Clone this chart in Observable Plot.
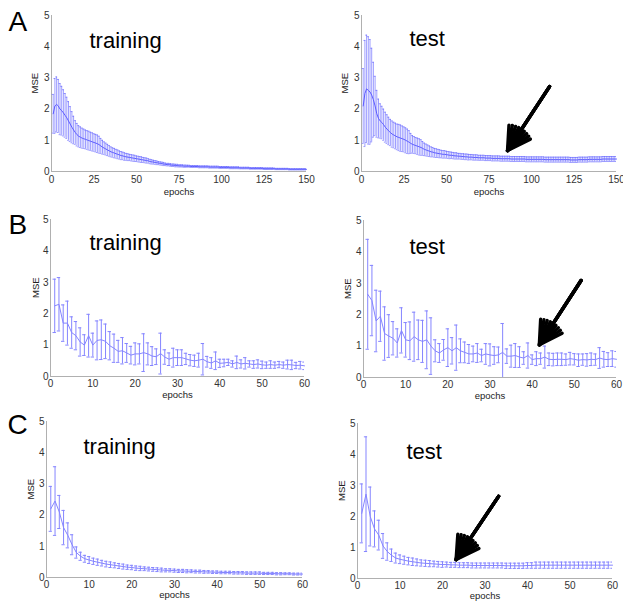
<!DOCTYPE html>
<html><head><meta charset="utf-8">
<script src="https://cdn.jsdelivr.net/npm/d3@7"></script>
<script src="https://cdn.jsdelivr.net/npm/@observablehq/plot@0.6"></script>
<style>
html,body{margin:0;padding:0;background:#fff;}
#fig{position:relative;width:623px;height:605px;overflow:hidden;}
#fig svg{position:absolute;overflow:visible;}
</style></head><body><div id="fig"></div>
<script>
// ---------- tick labels ----------
const yTicks = [0, 1, 2, 3, 4, 5];
const xTicksA = [0, 25, 50, 75, 100, 125, 150];
const xTicksBC = [0, 10, 20, 30, 40, 50, 60];

// ---------- panel A (150 epochs) ----------
const aTrainMean = [
 1.85,2.1,2.15,2.1,2.0,1.95,1.88,1.8,1.72,1.62,
 1.52,1.42,1.33,1.25,1.18,1.13,1.1,1.07,1.05,1.03,
 1.01,0.99,0.97,0.95,0.93,0.91,0.89,0.86,0.82,0.78,
 0.75,0.72,0.69,0.66,0.63,0.61,0.59,0.57,0.55,0.53,
 0.51,0.5,0.48,0.47,0.46,0.45,0.44,0.43,0.42,0.41,
 0.4,0.39,0.38,0.37,0.36,0.35,0.34,0.32,0.31,0.3,
 0.29,0.28,0.27,0.26,0.25,0.24,0.23,0.22,0.22,0.21,
 0.2,0.2,0.19,0.19,0.18,0.18,0.18,0.17,0.17,0.17,
 0.17,0.16,0.16,0.16,0.16,0.16,0.15,0.15,0.15,0.15,
 0.15,0.15,0.14,0.14,0.14,0.14,0.14,0.14,0.13,0.13,
 0.13,0.13,0.13,0.13,0.12,0.12,0.12,0.12,0.12,0.12,
 0.11,0.11,0.11,0.11,0.11,0.11,0.1,0.1,0.1,0.1,
 0.1,0.1,0.1,0.1,0.09,0.09,0.09,0.09,0.09,0.09,
 0.09,0.08,0.08,0.08,0.08,0.08,0.08,0.08,0.08,0.07,
 0.07,0.07,0.07,0.07,0.07,0.07,0.07,0.07,0.07,0.07];
const aTrainSd = [
 0.62,0.88,0.88,0.85,0.82,0.78,0.74,0.7,0.66,0.62,
 0.56,0.5,0.44,0.38,0.36,0.34,0.33,0.32,0.31,0.3,
 0.3,0.3,0.29,0.29,0.28,0.28,0.28,0.27,0.24,0.22,
 0.2,0.19,0.18,0.17,0.16,0.15,0.15,0.14,0.14,0.13,
 0.13,0.12,0.12,0.11,0.11,0.1,0.1,0.1,0.1,0.09,
 0.09,0.09,0.09,0.08,0.08,0.08,0.07,0.07,0.07,0.06,
 0.06,0.06,0.05,0.05,0.05,0.05,0.04,0.04,0.04,0.04,
 0.04,0.04,0.04,0.04,0.035,0.035,0.035,0.035,0.035,0.03,
 0.03,0.03,0.03,0.03,0.03,0.03,0.03,0.03,0.03,0.03,
 0.03,0.03,0.03,0.03,0.03,0.03,0.03,0.03,0.03,0.03,
 0.03,0.03,0.03,0.03,0.03,0.03,0.03,0.03,0.03,0.03,
 0.025,0.025,0.025,0.025,0.025,0.025,0.025,0.025,0.025,0.025,
 0.025,0.025,0.025,0.025,0.025,0.025,0.025,0.025,0.025,0.025,
 0.02,0.02,0.02,0.02,0.02,0.02,0.02,0.02,0.02,0.02,
 0.02,0.02,0.02,0.02,0.02,0.02,0.02,0.02,0.02,0.02];
const aTestMean = [
 2.1,2.5,2.65,2.6,2.55,2.45,2.3,2.1,1.85,1.7,
 1.62,1.57,1.5,1.42,1.36,1.3,1.25,1.2,1.17,1.14,
 1.11,1.09,1.07,1.05,1.03,1.0,0.97,0.94,0.9,0.87,
 0.85,0.83,0.81,0.79,0.77,0.74,0.71,0.69,0.67,0.65,
 0.63,0.62,0.6,0.59,0.58,0.57,0.56,0.55,0.55,0.54,
 0.53,0.52,0.52,0.51,0.5,0.5,0.49,0.49,0.48,0.48,
 0.47,0.47,0.46,0.46,0.46,0.45,0.45,0.45,0.44,0.44,
 0.44,0.44,0.43,0.43,0.43,0.43,0.42,0.42,0.42,0.42,
 0.42,0.41,0.41,0.41,0.41,0.41,0.41,0.4,0.4,0.4,
 0.4,0.4,0.4,0.4,0.4,0.4,0.39,0.39,0.39,0.39,
 0.39,0.39,0.39,0.39,0.39,0.39,0.39,0.38,0.38,0.38,
 0.38,0.38,0.38,0.38,0.38,0.38,0.38,0.38,0.38,0.38,
 0.38,0.38,0.37,0.37,0.37,0.37,0.37,0.38,0.38,0.38,
 0.38,0.38,0.38,0.39,0.39,0.39,0.39,0.39,0.39,0.39,
 0.39,0.4,0.4,0.4,0.4,0.4,0.4,0.4,0.4,0.4];
const aTestSd = [
 1.2,1.7,1.72,1.72,1.68,1.5,1.2,0.95,0.75,0.62,
 0.55,0.52,0.5,0.48,0.46,0.44,0.42,0.42,0.41,0.41,
 0.41,0.42,0.42,0.41,0.4,0.4,0.39,0.37,0.32,0.28,
 0.27,0.26,0.26,0.26,0.25,0.22,0.2,0.19,0.18,0.17,
 0.16,0.15,0.14,0.14,0.13,0.13,0.12,0.12,0.12,0.11,
 0.11,0.11,0.1,0.1,0.1,0.1,0.09,0.09,0.09,0.09,
 0.09,0.09,0.09,0.085,0.085,0.085,0.085,0.085,0.08,0.08,
 0.08,0.08,0.08,0.08,0.08,0.08,0.08,0.08,0.08,0.08,
 0.08,0.08,0.08,0.08,0.08,0.08,0.08,0.08,0.08,0.08,
 0.08,0.08,0.08,0.08,0.08,0.08,0.08,0.08,0.08,0.08,
 0.08,0.08,0.08,0.08,0.08,0.08,0.08,0.08,0.08,0.08,
 0.08,0.08,0.08,0.08,0.08,0.08,0.08,0.08,0.08,0.08,
 0.08,0.08,0.08,0.08,0.08,0.08,0.08,0.08,0.08,0.08,
 0.08,0.08,0.08,0.08,0.08,0.08,0.08,0.08,0.08,0.08,
 0.08,0.08,0.08,0.08,0.08,0.08,0.08,0.08,0.08,0.08];

// ---------- panel B (60 epochs) ----------
const bTrainMean = [
 2.25,2.3,1.7,1.7,1.4,1.3,1.1,1.0,1.3,1.0,
 1.15,1.17,1.12,0.98,0.9,0.8,0.82,0.75,0.68,0.72,
 0.72,0.76,0.72,0.65,0.63,0.73,0.62,0.55,0.6,0.6,
 0.6,0.56,0.52,0.5,0.52,0.55,0.47,0.43,0.5,0.42,
 0.43,0.45,0.4,0.45,0.4,0.42,0.4,0.38,0.4,0.37,
 0.36,0.38,0.36,0.38,0.36,0.38,0.37,0.35,0.36,0.34];
const bTrainSd = [
 0.85,0.85,0.58,0.7,0.5,0.45,0.45,0.33,0.68,0.38,
 0.62,0.63,0.55,0.45,0.45,0.35,0.42,0.3,0.28,0.35,
 0.32,0.6,0.35,0.3,0.25,0.65,0.23,0.2,0.3,0.25,
 0.25,0.18,0.18,0.18,0.22,0.5,0.17,0.17,0.28,0.13,
 0.12,0.1,0.1,0.2,0.13,0.18,0.1,0.12,0.13,0.12,
 0.1,0.12,0.1,0.1,0.1,0.14,0.15,0.1,0.12,0.12];
const bTestMean = [
 2.65,2.45,1.8,1.95,1.4,1.32,1.25,1.1,1.5,1.2,
 1.17,1.3,1.2,1.15,1.2,1.0,0.85,0.78,0.88,0.95,
 0.85,0.95,0.85,0.8,0.75,0.75,0.78,0.7,0.75,0.72,
 0.7,0.72,0.8,0.68,0.68,0.7,0.65,0.62,0.7,0.57,
 0.6,0.6,0.65,0.58,0.57,0.58,0.58,0.57,0.6,0.58,
 0.55,0.57,0.56,0.58,0.57,0.62,0.58,0.57,0.6,0.58];
const bTestSd = [
 1.75,1.12,0.98,0.8,0.85,0.68,0.53,0.45,0.72,0.55,
 0.6,0.78,0.63,0.67,0.92,0.9,0.35,0.3,0.33,0.6,
 0.42,0.72,0.38,0.33,0.3,0.25,0.3,0.2,0.33,0.35,
 0.28,0.25,0.92,0.23,0.35,0.38,0.33,0.2,0.4,0.15,
 0.22,0.18,0.35,0.2,0.2,0.2,0.2,0.18,0.2,0.18,
 0.2,0.18,0.2,0.2,0.18,0.33,0.25,0.22,0.25,0.25];

// ---------- panel C (60 epochs) ----------
const cTrainMean = [
 2.2,2.45,2.1,1.6,1.35,1.05,0.8,0.68,0.6,0.56,
 0.52,0.49,0.46,0.43,0.41,0.39,0.37,0.35,0.33,0.32,
 0.3,0.29,0.28,0.27,0.26,0.25,0.24,0.23,0.23,0.22,
 0.21,0.21,0.2,0.2,0.19,0.19,0.18,0.18,0.17,0.17,
 0.16,0.16,0.16,0.15,0.15,0.15,0.14,0.14,0.14,0.14,
 0.13,0.13,0.13,0.12,0.12,0.12,0.12,0.11,0.11,0.11];
const cTrainSd = [
 0.72,1.1,0.53,0.55,0.4,0.32,0.18,0.13,0.11,0.11,
 0.1,0.1,0.09,0.09,0.09,0.08,0.08,0.08,0.07,0.07,
 0.07,0.07,0.06,0.06,0.06,0.06,0.06,0.05,0.05,0.05,
 0.05,0.05,0.05,0.045,0.045,0.045,0.045,0.04,0.04,0.04,
 0.04,0.04,0.04,0.04,0.04,0.04,0.04,0.04,0.04,0.04,
 0.035,0.035,0.035,0.035,0.035,0.03,0.03,0.03,0.03,0.03];
const cTestMean = [
 2.1,2.72,2.0,1.6,1.4,1.05,0.87,0.75,0.66,0.62,
 0.59,0.56,0.54,0.52,0.5,0.49,0.48,0.47,0.46,0.45,
 0.45,0.44,0.44,0.43,0.43,0.43,0.42,0.42,0.42,0.42,
 0.42,0.42,0.42,0.42,0.41,0.41,0.41,0.41,0.41,0.42,
 0.42,0.43,0.43,0.43,0.43,0.43,0.43,0.43,0.43,0.43,
 0.43,0.43,0.43,0.43,0.43,0.43,0.43,0.43,0.43,0.43];
const cTestSd = [
 0.95,1.85,0.95,0.58,0.48,0.4,0.28,0.2,0.16,0.14,
 0.13,0.12,0.12,0.11,0.1,0.1,0.1,0.09,0.09,0.09,
 0.08,0.08,0.08,0.08,0.08,0.08,0.08,0.08,0.08,0.08,
 0.08,0.08,0.08,0.08,0.085,0.085,0.085,0.085,0.085,0.09,
 0.09,0.1,0.1,0.1,0.1,0.1,0.1,0.1,0.1,0.1,
 0.1,0.1,0.1,0.1,0.1,0.1,0.1,0.1,0.1,0.1];

// ---------- annotation arrows (data coordinates: epoch, MSE) ----------
const arrowA = {x1: 110.6, y1: 2.72, x2: 85.9, y2: 0.67};
const arrowB = {x1: 51.6, y1: 3.09, x2: 41.7, y2: 1.04};
const arrowC = {x1: 33.2, y1: 2.65, x2: 23.2, y2: 0.61};

// ---------- text ----------
const letters = ["A", "B", "C"];
const titleTrain = "training";
const titleTest = "test";
const xLabel = "epochs";
const yLabel = "MSE";

const FONT = "'Liberation Sans', Arial, Helvetica, sans-serif";
const fig = document.getElementById("fig");

function rowsOf(mean, sd) {
  return mean.map((m, i) => ({epoch: i + 1, mean: m, lo: m - sd[i], hi: m + sd[i]}));
}

function panel(p) {
  const rows = rowsOf(p.mean, p.sd);
  const marks = [
    Plot.ruleX([0], {stroke: "#b0b0b0"}),
    Plot.ruleY([0], {stroke: "#b0b0b0"}),
    Plot.axisY({ticks: yTicks, tickFormat: "d", tickSize: 0, tickPadding: 2, label: null, fontSize: 10}),
    Plot.axisX({ticks: p.xticks, tickFormat: "d", tickSize: 0, tickPadding: p.tp, label: null, fontSize: 10}),
    Plot.ruleX(rows, {x: "epoch", y1: "lo", y2: "hi", stroke: p.color, strokeWidth: p.bw, clip: true}),
    Plot.ruleY(rows, {y: "hi", x1: d => d.epoch - p.cap, x2: d => d.epoch + p.cap, stroke: p.color, strokeWidth: p.bw, clip: true}),
    Plot.ruleY(rows, {y: "lo", x1: d => d.epoch - p.cap, x2: d => d.epoch + p.cap, stroke: p.color, strokeWidth: p.bw, clip: true}),
    Plot.line(rows, {x: "epoch", y: "mean", stroke: p.color, strokeWidth: p.lw}),
    Plot.text([yLabel], {frameAnchor: "left", dx: p.mseDx, rotate: -90, fontSize: 9.5, fill: "#222"}),
    Plot.text([xLabel], {frameAnchor: "bottom", dy: p.epDy, lineAnchor: "middle", fontSize: 9.5, fill: "#222"}),
    Plot.text([p.title], {frameAnchor: "top-left", dx: p.tDx, dy: p.tDy, textAnchor: "start", lineAnchor: "bottom", fontSize: 22, fill: "#000"})
  ];
  if (p.letter) marks.push(Plot.text([p.letter], {frameAnchor: "top-left", dx: p.lDx, dy: p.lDy, textAnchor: "start", lineAnchor: "bottom", fontSize: 28, fill: "#000"}));
  if (p.arrow) {
    // several heads at decreasing angles fill the arrowhead into a solid wedge
    for (const ang of [60, 45, 30, 15]) {
      marks.push(Plot.arrow([p.arrow], {x1: "x1", y1: "y1", x2: "x2", y2: "y2", stroke: "#000", strokeWidth: 3.4, headLength: 14, headAngle: ang}));
    }
  }
  const svg = Plot.plot({
    width: p.w, height: p.h,
    marginLeft: p.mL, marginRight: p.mR, marginTop: p.mT, marginBottom: p.mB,
    style: {fontFamily: FONT, fontSize: "10px", color: "#333", background: "transparent", overflow: "visible"},
    x: {domain: [0, p.xmax]},
    y: {domain: [0, 5]},
    marks
  });
  svg.style.left = p.left + "px";
  svg.style.top = p.top + "px";
  fig.appendChild(svg);
}

const blueA = "#5c5cff", blueBC = "#8585ff";

panel({mean: aTrainMean, sd: aTrainSd, xmax: 150, xticks: xTicksA, cap: 0.55, color: blueA, bw: 0.6, lw: 1,
  left: 0, top: 0, w: 310, h: 200, mL: 51, mR: 4, mT: 15, mB: 29, tp: 4,
  title: titleTrain, tDx: 38, tDy: 32, letter: letters[0], lDx: -43, lDy: 15, mseDx: -17, epDy: 20.5});
panel({mean: aTestMean, sd: aTestSd, xmax: 150, xticks: xTicksA, cap: 0.55, color: blueA, bw: 0.6, lw: 1,
  left: 310, top: 0, w: 313, h: 200, mL: 51, mR: 7, mT: 15, mB: 29, tp: 4,
  title: titleTest, tDx: 48, tDy: 30, mseDx: -17, epDy: 20.5, arrow: arrowA});
panel({mean: bTrainMean, sd: bTrainSd, xmax: 60, xticks: xTicksBC, cap: 0.4, color: blueBC, bw: 1, lw: 1,
  left: 0, top: 200, w: 310, h: 200, mL: 50, mR: 6, mT: 19, mB: 24, tp: 3,
  title: titleTrain, tDx: 39, tDy: 30, letter: letters[1], lDx: -42, lDy: 14, mseDx: -15, epDy: 18});
panel({mean: bTestMean, sd: bTestSd, xmax: 60, xticks: xTicksBC, cap: 0.4, color: blueBC, bw: 1, lw: 1,
  left: 310, top: 200, w: 313, h: 200, mL: 53, mR: 7, mT: 20, mB: 23, tp: 3,
  title: titleTest, tDx: 46, tDy: 33, mseDx: -16, epDy: 18, arrow: arrowB});
panel({mean: cTrainMean, sd: cTrainSd, xmax: 60, xticks: xTicksBC, cap: 0.38, color: blueBC, bw: 1, lw: 1,
  left: 0, top: 400, w: 310, h: 205, mL: 46, mR: 8, mT: 21, mB: 28, tp: 3,
  title: titleTrain, tDx: 37, tDy: 32, letter: letters[2], lDx: -39, lDy: 12, mseDx: -16, epDy: 17});
panel({mean: cTestMean, sd: cTestSd, xmax: 60, xticks: xTicksBC, cap: 0.38, color: blueBC, bw: 1, lw: 1,
  left: 310, top: 400, w: 313, h: 205, mL: 47, mR: 11, mT: 23, mB: 27, tp: 3,
  title: titleTest, tDx: 49, tDy: 35, mseDx: -16, epDy: 17, arrow: arrowC});
</script></body></html>
